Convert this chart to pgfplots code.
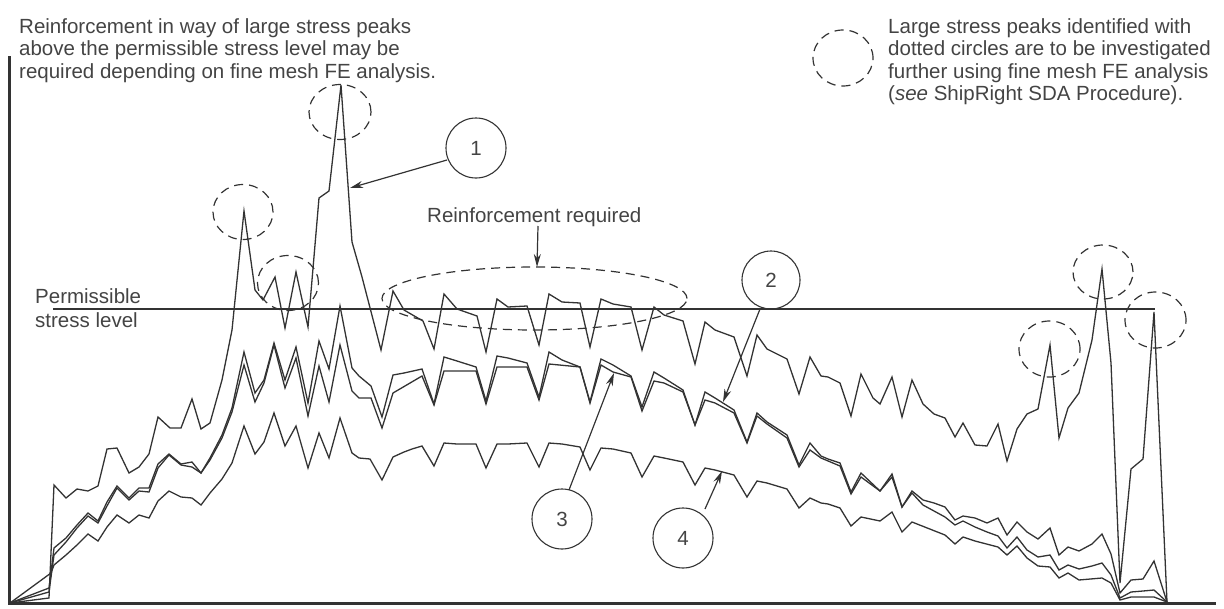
\documentclass[border=0pt]{standalone}
\usepackage{fontspec}
\setmainfont{Liberation Sans}
\usepackage{pgfplots}
\pgfplotsset{compat=1.18}
\usetikzlibrary{arrows.meta}
\definecolor{ink}{HTML}{333333}
\definecolor{txt}{HTML}{444444}

\begin{document}
\begin{tikzpicture}[
  lbl/.style={anchor=base west, inner sep=0pt, text=txt, font=\fontsize{20.5pt}{22.5pt}\selectfont},
  peak/.style={ink, line width=1.2pt, dash pattern=on 9pt off 6pt},
  num/.style={ink, line width=1.1pt},
  arr/.style={ink, line width=1.2pt, -{Stealth[length=13pt,width=7pt]}},
]
\begin{axis}[
  scale only axis, width=1224pt, height=608pt,
  xmin=0, xmax=1224, ymin=0, ymax=608, y dir=reverse,
  hide axis, clip=false,
  series/.style={ink, line width=1.3pt, mark=none},
]
% frame of the picture
\path (0,0) rectangle (1224,608);

% stress along the hull, series 1 (highest)
\addplot[series] table {
x y
10 603
49 598
54 485
66 498
77 489
88 491
98 486
107 449
117 448
129 473
139 467
149 454
158 417
170 428
181 428
192 399
201 429
210 423
222 380
232 330
244 211
255 290
263 300
275 277
285 328
296 272
308 327
319 198
329 191
341 85
352 242
362 277
381 350
393 291
404 310
423 321
434 349
444 294
457 309
477 316
486 352
497 299
508 307
527 306
539 345
549 294
562 302
580 303
590 347
601 299
613 304
631 307
642 350
654 307
664 315
683 321
695 364
705 322
715 330
734 337
747 376
757 335
767 349
787 359
799 394
810 357
821 376
828 377
840 383
851 416
861 374
873 398
880 404
892 377
902 417
912 380
923 404
934 414
945 418
955 437
963 423
975 445
987 446
998 424
1007 461
1017 429
1027 414
1038 409
1050 345
1059 438
1068 408
1079 393
1092 340
1102 269
1111 363
1120 583
1131 469
1143 459
1154 312
1167 602
};

% series 2
\addplot[series] table {
x y
10 603
49 588
54 548
66 538
77 525
88 513
98 521
107 502
117 486
129 498
139 488
149 488
158 464
169 454
181 464
192 462
201 473
210 458
222 435
232 408
244 352
255 393
264 380
274 343
285 380
296 347
308 403
319 341
329 369
340 306
352 368
359 376
371 386
382 417
393 375
404 373
422 369
434 404
444 357
457 361
476 367
486 401
497 356
508 358
527 363
539 397
549 352
562 360
580 367
590 402
601 359
613 365
631 376
642 407
654 372
664 378
683 390
695 425
705 392
715 398
734 410
747 442
757 413
767 422
787 435
799 465
810 443
821 456
828 459
840 463
851 492
861 473
880 491
892 474
902 507
912 491
923 500
934 503
945 507
955 520
963 516
975 518
987 523
998 518
1007 535
1017 522
1027 532
1038 539
1050 528
1059 555
1068 547
1079 551
1092 544
1102 534
1111 554
1120 593
1131 580
1143 579
1154 561
1167 602
};

% series 3
\addplot[series] table {
x y
10 603
49 592
54 555
66 542
77 528
88 516
98 523
107 506
117 488
129 500
139 491
149 492
158 468
169 455
181 465
192 467
201 473
210 460
222 438
232 412
244 365
255 402
264 383
274 345
285 388
296 358
308 416
319 366
329 402
340 345
352 391
359 398
371 398
382 428
393 393
422 376
434 405
444 371
476 371
486 404
497 367
527 367
539 400
549 364
580 367
590 403
601 365
613 372
631 377
642 411
654 381
664 383
683 392
695 425
705 400
715 403
734 413
747 443
757 416
767 424
787 438
799 467
810 450
821 458
840 466
851 494
861 477
880 491
892 477
902 507
912 493
923 505
945 517
955 525
963 521
975 527
987 532
998 536
1007 548
1017 537
1027 550
1038 557
1050 555
1059 570
1068 565
1079 569
1092 566
1102 563
1111 575
1120 598
1131 592
1143 591
1154 590
1167 602
};

% series 4 (lowest)
\addplot[series] table {
x y
10 603
51 573
54 565
66 555
77 545
88 534
98 541
107 527
117 515
129 523
139 515
149 518
158 501
169 491
181 497
192 498
201 505
210 493
222 479
232 463
244 426
255 454
264 442
274 413
285 446
296 426
308 468
319 433
329 458
340 418
352 453
359 458
370 459
382 480
393 457
404 452
412 449
422 446
434 466
444 443
457 444
476 444
486 468
497 444
508 444
527 443
539 467
549 443
562 444
580 447
590 470
601 448
613 449
631 453
642 477
654 456
664 458
683 462
695 485
705 468
715 470
734 475
747 497
757 481
767 483
787 489
799 508
810 498
821 503
828 504
840 508
851 526
861 517
880 521
892 512
902 532
912 522
945 535
955 544
963 537
975 541
998 547
1007 555
1017 546
1027 558
1038 566
1050 567
1059 578
1068 573
1079 580
1102 578
1111 583
1120 600
1131 597
1143 597
1154 597
1167 602
};

% permissible stress level
\addplot[series, line width=1.5pt] coordinates {(53,309) (1155,309)};

% axis lines
\draw[ink, line width=3pt] (9.5,56) -- (9.5,603.5) -- (1216,603.5);

% texts
\node[lbl] at (19,33) {Reinforcement in way of large stress peaks};
\node[lbl] at (19,55.5) {above the permissible stress level may be};
\node[lbl] at (19,78) {required depending on fine mesh FE analysis.};
\node[lbl] at (888,33) {Large stress peaks identified with};
\node[lbl] at (888,55.5) {dotted circles are to be investigated};
\node[lbl] at (888,78) {further using fine mesh FE analysis};
\node[lbl] at (888,100.5) {(\textit{see} ShipRight SDA Procedure).};
\node[lbl] at (35,303) {Permissible};
\node[lbl] at (35,327) {stress level};
\node[lbl] at (427,222) {Reinforcement required};

% dashed circles round the peaks
\draw[peak] (843,58) ellipse [x radius=30pt, y radius=28pt];
\draw[peak] (243,212) ellipse [x radius=30pt, y radius=27.5pt];
\draw[peak] (288,283) ellipse [x radius=30.5pt, y radius=27.5pt];
\draw[peak] (340,112) ellipse [x radius=31pt, y radius=27.5pt];
\draw[peak] (1049.5,349) ellipse [x radius=30.5pt, y radius=28pt];
\draw[peak] (1103,272) ellipse [x radius=30pt, y radius=27pt];
\draw[peak] (1155.5,320) ellipse [x radius=30.5pt, y radius=28pt];
\draw[peak] (534.5,298.5) ellipse [x radius=152.5pt, y radius=31.5pt];
\draw[arr] (538,226) -- (537,267);

% numbered callouts
\draw[num] (476,148) circle [radius=30pt];
\node[text=txt, font=\fontsize{20.5pt}{22.5pt}\selectfont] at (476,148) {1};
\draw[arr] (447,160) -- (350,188);
\draw[num] (771,280) circle [radius=29pt];
\node[text=txt, font=\fontsize{20.5pt}{22.5pt}\selectfont] at (771,280) {2};
\draw[arr] (760,309) -- (723,402);
\draw[num] (562,519) circle [radius=30pt];
\node[text=txt, font=\fontsize{20.5pt}{22.5pt}\selectfont] at (562,519) {3};
\draw[arr] (569,490) -- (614,373);
\draw[num] (683,538) circle [radius=30pt];
\node[text=txt, font=\fontsize{20.5pt}{22.5pt}\selectfont] at (683,538) {4};
\draw[arr] (705,509) -- (722,471);
\end{axis}
\end{tikzpicture}
\end{document}
